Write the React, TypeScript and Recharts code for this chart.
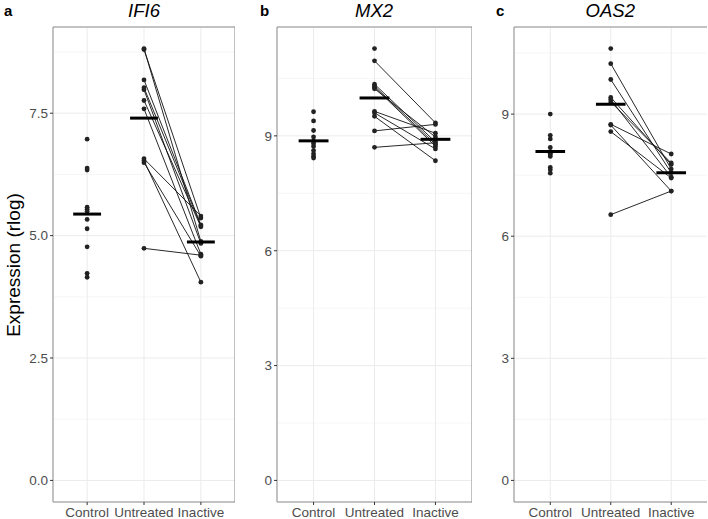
import {
  ComposedChart, Scatter, XAxis, YAxis, CartesianGrid, ReferenceArea,
} from 'recharts'

const FONT = '"Liberation Sans", Arial, Helvetica, sans-serif'

const categories = ['Control', 'Untreated', 'Inactive']

// IFI6 (rlog)
const ifi6Control = [6.97, 6.38, 6.34, 5.58, 5.54, 5.5, 5.33, 5.14, 4.77, 4.23, 4.15]
const ifi6Untreated = [8.82, 8.8, 8.18, 8.02, 7.98, 7.76, 7.59, 6.57, 6.53, 6.49, 4.74]
const ifi6Inactive = [4.88, 5.36, 5.22, 5.2, 4.84, 5.18, 4.62, 5.4, 4.05, 4.58, 4.6]
const ifi6Means = [5.44, 7.4, 4.87]

// MX2
const mx2Control = [9.63, 9.39, 9.14, 8.97, 8.86, 8.8, 8.73, 8.62, 8.53, 8.47, 8.42]
const mx2Untreated = [11.28, 10.96, 10.35, 10.3, 10.27, 10.23, 9.64, 9.6, 9.51, 9.13, 8.7]
const mx2Inactive = [null, 9.34, 8.84, 8.78, 8.73, 8.97, 9.07, 8.66, 8.35, 9.3, 8.82]
const mx2Means = [8.87, 9.99, 8.91]

// OAS2
const oas2Control = [9.0, 8.48, 8.39, 8.18, 8.08, 8.04, 8.0, 7.96, 7.69, 7.63, 7.55]
const oas2Untreated = [10.61, 10.24, 9.85, 9.41, 9.36, 9.3, 8.75, 8.73, 8.57, 6.53]
const oas2Inactive = [null, 7.65, 7.56, 7.76, 7.45, 7.8, 8.02, 7.11, 7.43, 7.11]
const oas2Means = [8.08, 9.24, 7.56]

const ticksA = [0, 2.5, 5, 7.5]
const minorA = [1.25, 3.75, 6.25, 8.75]
const ticksB = [0, 3, 6, 9]
const minorB = [1.5, 4.5, 7.5, 10.5]

const PLOT_TOP = 27
const H = 519
const X_AX_H = 17
const Y_AX_W = 30

interface PanelProps {
  letter: string
  letterX: number
  title: string
  plotLeft: number
  plotWidth: number
  control: number[]
  untreated: number[]
  inactive: (number | null)[]
  means: number[]
  yTicks: number[]
  minor: number[]
  decimals: number
}

const Dot = (p: { cx?: number; cy?: number }) => (
  <circle cx={p.cx} cy={p.cy} r={2.4} fill="#222" />
)
const NoDot = () => <g />

function Panel(props: PanelProps) {
  const { letter, letterX, title, plotLeft, plotWidth, control, untreated, inactive, means, yTicks, minor, decimals } = props
  const all = [...control, ...untreated, ...inactive.filter((v): v is number => v != null)]
  const max = Math.max(...all)
  const lo = -0.05 * max
  const hi = 1.05 * max

  const pts = [
    ...control.map(y => ({ x: 1, y })),
    ...untreated.map(y => ({ x: 2, y })),
    ...inactive.filter((v): v is number => v != null).map(y => ({ x: 3, y })),
  ]
  // untreated -> inactive pairs (unpaired samples have null)
  const pairs = untreated
    .map((u, i) => (inactive[i] == null ? null : [{ x: 2, y: u }, { x: 3, y: inactive[i] as number }]))
    .filter(Boolean) as { x: number; y: number }[][]

  return (
    <>
      <div style={{ position: 'absolute', left: letterX, top: 2, fontFamily: FONT, fontWeight: 'bold', fontSize: 15, color: '#000' }}>
        {letter}
      </div>
      <div style={{ position: 'absolute', left: plotLeft, width: plotWidth, top: 0, textAlign: 'center', fontFamily: FONT, fontStyle: 'italic', fontSize: 18.5, color: '#000' }}>
        {title}
      </div>
      <div style={{ position: 'absolute', left: plotLeft - Y_AX_W, top: 0 }}>
        <ComposedChart width={plotWidth + Y_AX_W} height={H} margin={{ top: PLOT_TOP, right: 0, bottom: 0, left: 0 }}>
          <CartesianGrid vertical={false} horizontalValues={minor} stroke="#f2f2f2" strokeWidth={0.7} />
          <CartesianGrid stroke="#ebebeb" strokeWidth={1} />
          <XAxis
            dataKey="x" type="number" domain={[0.4, 3.6]} allowDataOverflow ticks={[1, 2, 3]} interval={0}
            tickFormatter={(v: number) => categories[v - 1]} height={X_AX_H}
            axisLine={false} tickLine={{ stroke: '#333' }} tickSize={3} tickMargin={2}
            tick={{ fill: '#4d4d4d', fontSize: 13.5, fontFamily: FONT }}
          />
          <YAxis
            dataKey="y" type="number" domain={[lo, hi]} allowDataOverflow ticks={yTicks} interval={0}
            tickFormatter={(v: number) => v.toFixed(decimals)} width={Y_AX_W}
            axisLine={false} tickLine={{ stroke: '#333' }} tickSize={3} tickMargin={2}
            tick={{ fill: '#4d4d4d', fontSize: 13.5, fontFamily: FONT }}
          />
          <ReferenceArea x1={0.4} x2={3.6} y1={lo} y2={hi} fill="none" stroke="#8f8f8f" strokeWidth={1} ifOverflow="visible" />
          {pairs.map((d, i) => (
            <Scatter key={'p' + i} data={d} line={{ stroke: '#111', strokeWidth: 0.9 }} shape={NoDot} isAnimationActive={false} />
          ))}
          <Scatter data={pts} shape={Dot} isAnimationActive={false} />
          {means.map((m, i) => (
            <Scatter key={'m' + i} data={[{ x: i + 1 - 0.245, y: m }, { x: i + 1 + 0.245, y: m }]}
              line={{ stroke: '#000', strokeWidth: 3 }} shape={NoDot} isAnimationActive={false} />
          ))}
        </ComposedChart>
      </div>
    </>
  )
}

export default function App() {
  return (
    <div style={{ position: 'absolute', left: 0, top: 0, width: 708, height: 519, background: '#fff', overflow: 'hidden' }}>
      <div style={{
        position: 'absolute', left: 14, top: PLOT_TOP + (H - X_AX_H - PLOT_TOP) / 2, transform: 'translate(-50%, -50%) rotate(-90deg)',
        fontFamily: FONT, fontSize: 19, color: '#000', whiteSpace: 'nowrap',
      }}>
        Expression (rlog)
      </div>
      <Panel letter="a" letterX={4} title="IFI6" plotLeft={53} plotWidth={182}
        control={ifi6Control} untreated={ifi6Untreated} inactive={ifi6Inactive} means={ifi6Means}
        yTicks={ticksA} minor={minorA} decimals={1} />
      <Panel letter="b" letterX={260} title="MX2" plotLeft={276.5} plotWidth={195}
        control={mx2Control} untreated={mx2Untreated} inactive={mx2Inactive} means={mx2Means}
        yTicks={ticksB} minor={minorB} decimals={0} />
      <Panel letter="c" letterX={496} title="OAS2" plotLeft={513.5} plotWidth={193.5}
        control={oas2Control} untreated={oas2Untreated} inactive={oas2Inactive} means={oas2Means}
        yTicks={ticksB} minor={minorB} decimals={0} />
    </div>
  )
}
